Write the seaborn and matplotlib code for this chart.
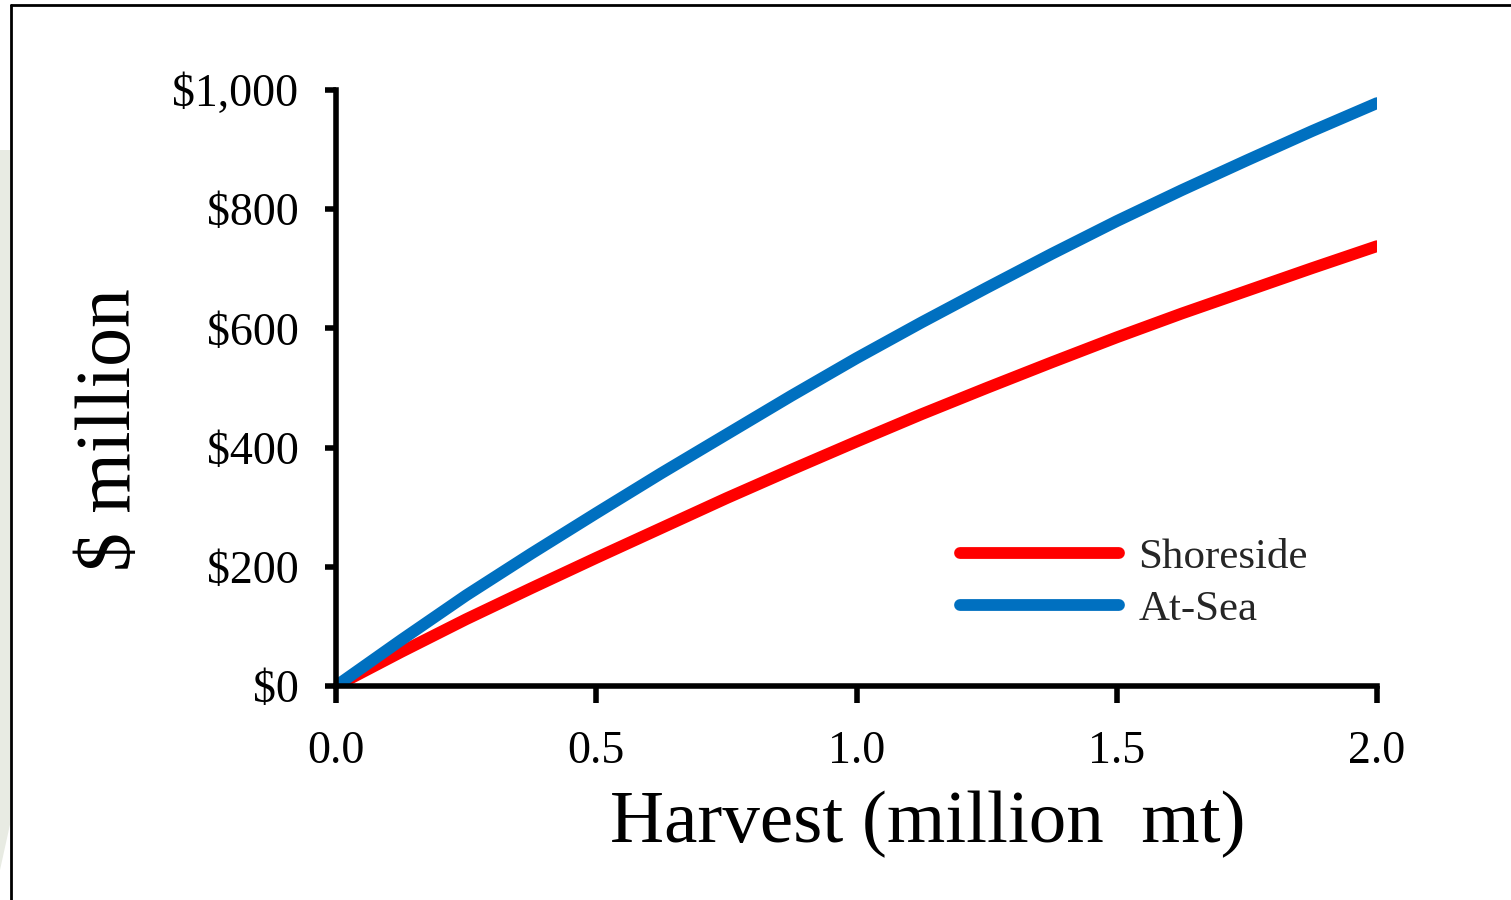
import numpy as np
import pandas as pd
import matplotlib
matplotlib.use("Agg")
import matplotlib.pyplot as plt
from matplotlib.lines import Line2D
from matplotlib.patches import Polygon
import seaborn as sns

# ---- data ----
harvest = [0.0, 0.125, 0.25, 0.375, 0.5, 0.625, 0.75, 0.875, 1.0,
           1.125, 1.25, 1.375, 1.5, 1.625, 1.75, 1.875, 2.0]
shoreside = [0, 57, 112, 164, 215, 265, 315, 363, 410,
             456, 500, 543, 585, 625, 663, 701, 738]
at_sea = [0, 77, 152, 222, 290, 357, 422, 487, 550,
          610, 668, 725, 780, 832, 882, 931, 978]
series_names = ["Shoreside", "At-Sea"]
series_colors = ["#FF0000", "#0070C0"]
x_ticks = [0.0, 0.5, 1.0, 1.5, 2.0]
x_tick_labels = ["0.0", "0.5", "1.0", "1.5", "2.0"]
y_ticks = [0, 200, 400, 600, 800, 1000]
y_tick_labels = ["$0", "$200", "$400", "$600", "$800", "$1,000"]
x_label = "Harvest (million  mt)"
y_label = "$ million"

df = pd.DataFrame({
    "Harvest": harvest * 2,
    "Value": shoreside + at_sea,
    "Sector": [series_names[0]] * len(harvest) + [series_names[1]] * len(harvest),
})

sns.set_theme(style="white")
plt.rcParams["font.family"] = ["Liberation Serif", "DejaVu Serif"]

W, H = 1511, 900
fig = plt.figure(figsize=(W / 100, H / 100), dpi=100)
fig.patch.set_facecolor("white")

# faint decorative background shape on the far left
fig.add_artist(Polygon([[0, 1 - 150 / H], [11 / W, 1 - 150 / H], [11 / W, 1 - 820 / H], [0, 1 - 870 / H]],
                       closed=True, transform=fig.transFigure, facecolor="#e8ebe3", edgecolor="none", zorder=0))
# slide frame (top and left edges)
fig.add_artist(Line2D([11 / W, 1.0], [1 - 5 / H, 1 - 5 / H], transform=fig.transFigure, color="black", lw=2))
fig.add_artist(Line2D([11 / W, 11 / W], [0, 1 - 5 / H], transform=fig.transFigure, color="black", lw=2))

ax = fig.add_axes([336 / W, 1 - 686 / H, (1377 - 336) / W, (686 - 90) / H])
ax.set_facecolor("none")

palette = dict(zip(series_names, series_colors))
sns.lineplot(data=df, x="Harvest", y="Value", hue="Sector", hue_order=series_names,
             palette=palette, lw=8.5, errorbar=None, legend=False, ax=ax)

ax.set_xlim(0, 2.0)
ax.set_ylim(0, 1000)
ax.set_xticks(x_ticks)
ax.set_xticklabels(x_tick_labels)
ax.set_yticks(y_ticks)
ax.set_yticklabels(y_tick_labels)

for s in ["top", "right"]:
    ax.spines[s].set_visible(False)
for s in ["left", "bottom"]:
    ax.spines[s].set_linewidth(4)
    ax.spines[s].set_color("black")

ax.tick_params(axis="y", direction="out", length=8, width=4, pad=19, labelsize=33, colors="black", left=True)
ax.tick_params(axis="x", direction="out", length=12, width=4, pad=20, labelsize=33, colors="black", bottom=True)

ax.set_xlabel(x_label, fontsize=54, va="center", color="black")
ax.xaxis.set_label_coords((928 - 336) / 1041, (686 - 824) / 596)
ax.set_ylabel(y_label, fontsize=56, va="center", color="black")
ax.yaxis.set_label_coords((111 - 336) / 1041, (686 - 430) / 596)

handles = [Line2D([0], [0], color=c, lw=8.5, solid_capstyle="round") for c in series_colors]
leg = ax.legend(handles, series_names, loc="upper left", bbox_to_anchor=(0.599, 0.248),
                frameon=False, fontsize=31, handlelength=3.7, handletextpad=0.45,
                labelspacing=0.3, borderpad=0, borderaxespad=0)

fig.savefig("out.png", dpi=100, facecolor="white")
